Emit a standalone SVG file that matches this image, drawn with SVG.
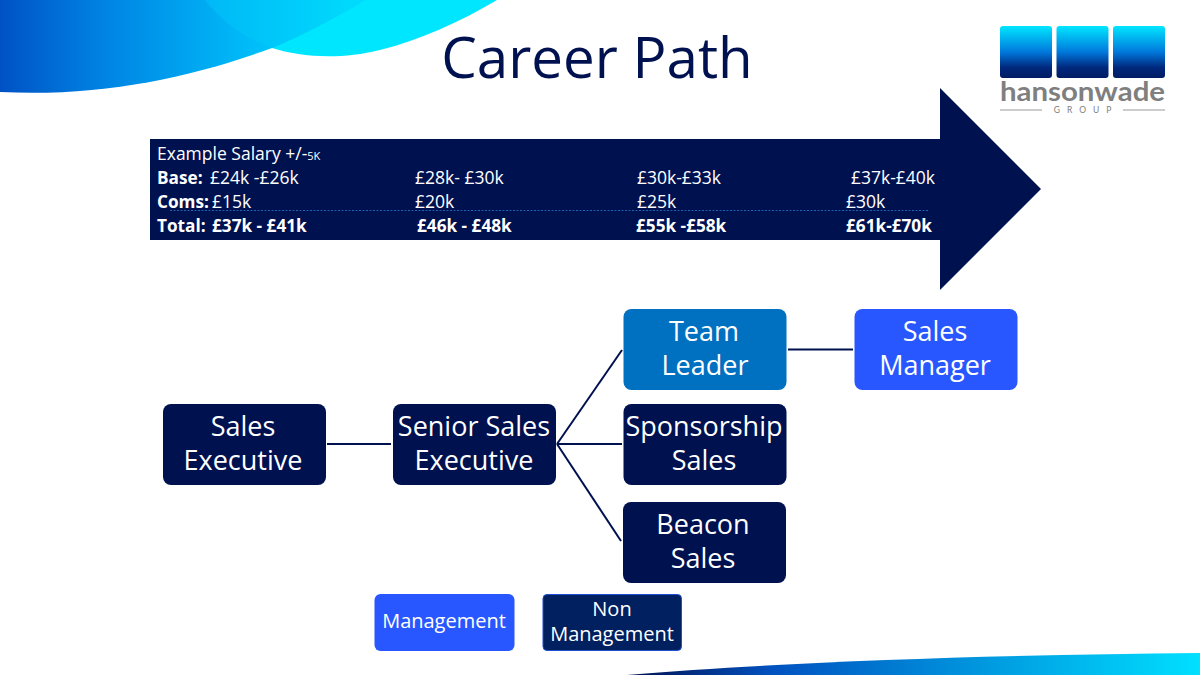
<svg xmlns="http://www.w3.org/2000/svg" width="1200" height="675" viewBox="0 0 1200 675">
<style>
text{font-family:"Open Sans","Noto Sans",sans-serif;fill:#fff}
.node{font-size:27px;text-anchor:middle}
.navy{fill:#001150}
.tb{font-family:Lato,"Open Sans",sans-serif;font-size:17.5px}
.b{font-weight:700;font-size:17.2px}
.link{stroke:#001150;stroke-width:2;fill:none}
.leg{font-size:20px;text-anchor:middle}
</style>
<defs>
<linearGradient id="swoopA" gradientUnits="userSpaceOnUse" x1="0" x2="300" y1="0" y2="0"><stop offset="0" stop-color="#0052c4"/><stop offset=".35" stop-color="#0084e4"/><stop offset="1" stop-color="#00cfff"/></linearGradient>
<linearGradient id="swoopB" gradientUnits="userSpaceOnUse" x1="205" x2="365" y1="0" y2="0"><stop offset="0" stop-color="#00b8f6"/><stop offset="1" stop-color="#00dcfd"/></linearGradient>
<linearGradient id="swoopC" gradientUnits="userSpaceOnUse" x1="630" x2="1200" y1="0" y2="0"><stop offset="0" stop-color="#001150"/><stop offset=".25" stop-color="#0052c0"/><stop offset="1" stop-color="#00e0ff"/></linearGradient>
<linearGradient id="tile" x1="0" x2="0" y1="0" y2="1"><stop offset="0" stop-color="#00e6ff"/><stop offset=".5" stop-color="#0078dc"/><stop offset=".8" stop-color="#00287c"/><stop offset="1" stop-color="#001c64"/></linearGradient>
</defs>

<!-- corner swoops -->
<path d="M272 48C300 57 340 60 380 50C420 40 460 22 497 0H205C222 22 245 38 272 48Z" fill="#00e6ff"/>
<path d="M0 0H365C335 18 305 34 272 48C190 78 100 97 0 92Z" fill="url(#swoopA)"/>
<path d="M205 0H365C335 18 305 34 272 48C245 38 222 22 205 0Z" fill="url(#swoopB)"/>
<path d="M627 675C780 662 990 655 1200 653V675Z" fill="url(#swoopC)"/>

<text x="597" y="78" font-size="56.500" text-anchor="middle" style="fill:#001150">Career Path</text>

<!-- logo -->
<g id="logo">
<rect x="1000" y="26" width="52" height="52" rx="3" fill="url(#tile)"/>
<rect x="1056.500" y="26" width="52" height="52" rx="3" fill="url(#tile)"/>
<rect x="1113" y="26" width="52" height="52" rx="3" fill="url(#tile)"/>
<text x="1000" y="101" font-size="27" textLength="165" lengthAdjust="spacingAndGlyphs" style="fill:#7f7f7f;font-family:Lato,sans-serif;font-weight:700">hansonwade</text>
<text x="1086" y="113" font-size="8.500" text-anchor="middle" letter-spacing="7" style="fill:#808080;font-family:Lato,sans-serif">GROUP</text>
<path d="M1000 110H1042M1123 110H1165" stroke="#999" stroke-width="1.200"/>
</g>

<!-- salary arrow -->
<g id="salary-arrow">
<path d="M150 139H940V88L1041 189L940 290V240H150Z" fill="#001150"/>
<path d="M170 210.500H928" stroke="#1f5fb0" stroke-width="1" stroke-dasharray="2 1.500"/>
<g class="tb">
<text x="157" y="160">Example Salary +/-<tspan font-size="11">5K</tspan></text>
<text x="157" y="184" class="b">Base:</text>
<text x="210" y="184">£24k -£26k</text>
<text x="415" y="184">£28k- £30k</text>
<text x="637" y="184">£30k-£33k</text>
<text x="851" y="184">£37k-£40k</text>
<text x="157" y="208" class="b">Coms:</text>
<text x="212" y="208">£15k</text>
<text x="415" y="208">£20k</text>
<text x="637" y="208">£25k</text>
<text x="846" y="208">£30k</text>
<g class="b">
<text x="157" y="232">Total:</text>
<text x="212" y="232">£37k - £41k</text>
<text x="417" y="232">£46k - £48k</text>
<text x="636" y="232">£55k -£58k</text>
<text x="846" y="232">£61k-£70k</text>
</g>
</g>
</g>

<!-- connectors -->
<g id="connectors" class="link">
<path d="M327 444H391"/>
<path d="M557 444L622 350"/>
<path d="M557 444H622"/>
<path d="M557 444L621 541"/>
<path d="M788 349.500H853"/>
</g>

<g id="sales-executive">
<rect x="163" y="404" width="163" height="81" rx="8" class="navy"/>
<text class="node" x="243" y="436">Sales</text>
<text class="node" x="243" y="470">Executive</text>
</g>
<g id="senior-sales-executive">
<rect x="393" y="404" width="163" height="81" rx="8" class="navy"/>
<text class="node" x="474" y="436">Senior Sales</text>
<text class="node" x="474" y="470">Executive</text>
</g>
<g id="team-leader">
<rect x="623.500" y="309" width="163" height="81" rx="8" fill="#0070c0"/>
<text class="node" x="704" y="341">Team</text>
<text class="node" x="705" y="375">Leader</text>
</g>
<g id="sales-manager">
<rect x="854.500" y="309" width="163" height="81" rx="8" fill="#2957ff"/>
<text class="node" x="935" y="341">Sales</text>
<text class="node" x="935" y="375">Manager</text>
</g>
<g id="sponsorship-sales">
<rect x="623.500" y="404" width="163" height="81" rx="8" class="navy"/>
<text class="node" x="704" y="436">Sponsorship</text>
<text class="node" x="704" y="470">Sales</text>
</g>
<g id="beacon-sales">
<rect x="623" y="502" width="163" height="81" rx="8" class="navy"/>
<text class="node" x="703" y="534">Beacon</text>
<text class="node" x="703" y="568">Sales</text>
</g>
<g id="legend-management">
<rect x="374.500" y="594" width="140" height="57" rx="6" fill="#2957ff"/>
<text class="leg" x="444" y="628">Management</text>
</g>
<g id="legend-non-management">
<rect x="543" y="594.500" width="138.500" height="56" rx="4" fill="#00205f" stroke="#1f4fd0" stroke-width="1"/>
<text class="leg" x="612" y="616">Non</text>
<text class="leg" x="612" y="641">Management</text>
</g>
</svg>
